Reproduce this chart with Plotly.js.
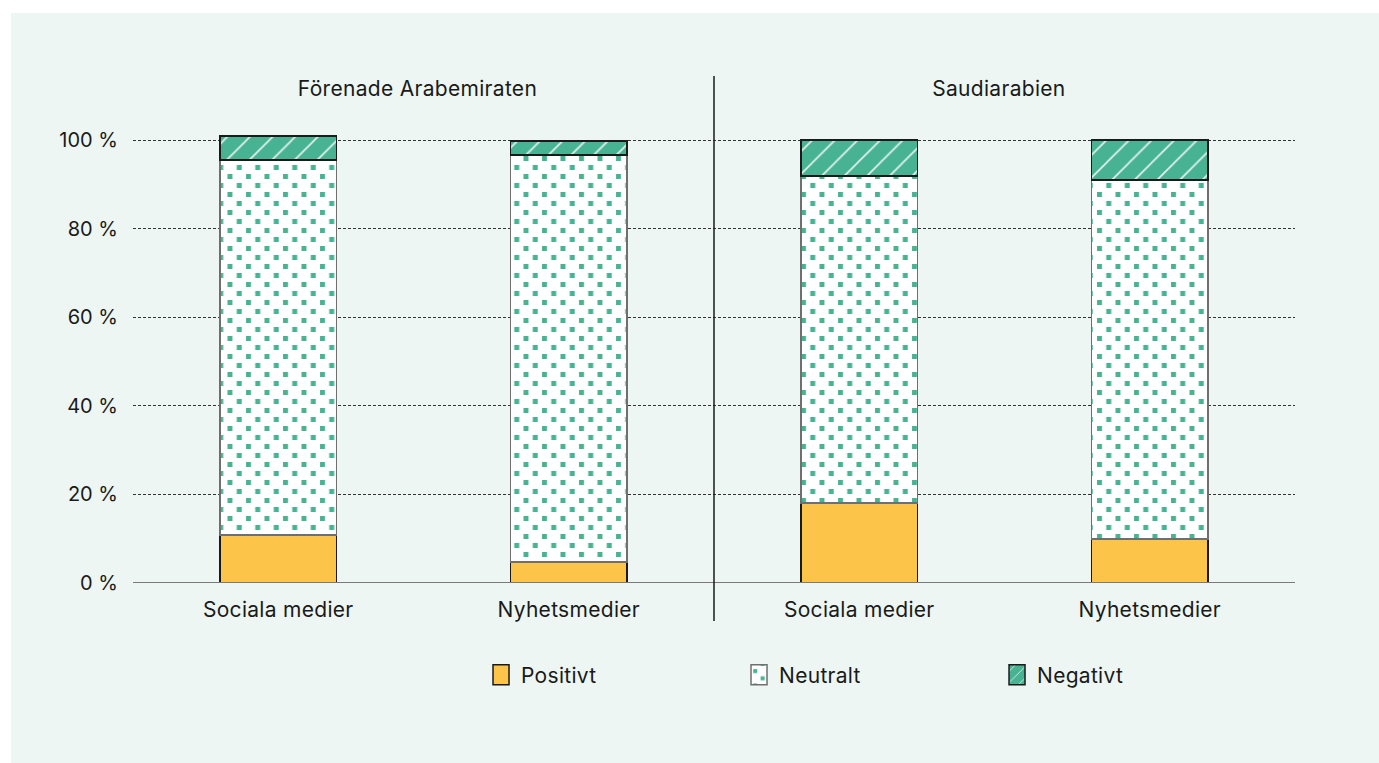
<!DOCTYPE html>
<html>
<head>
<meta charset="utf-8">
<script src="https://cdn.plot.ly/plotly-3.0.1.min.js"></script>
<style>
  html, body { margin: 0; padding: 0; background: #ffffff; }
  #chart { position: absolute; left: 11px; top: 13px; width: 1368px; height: 750px; }
  #chart .xtick text, #chart .annotation-text, #chart .legendtext { letter-spacing: 0.3px; }
</style>
</head>
<body>
<div id="chart"></div>
<script>
// Data
const groups = ["Förenade Arabemiraten", "Saudiarabien"];
const categories = ["Sociala medier", "Nyhetsmedier", "Sociala medier", "Nyhetsmedier"];
const positions = [0, 1, 2, 3];
const positivt = [10.8, 4.7, 18.1, 9.9];
const neutralt = [84.7, 91.9, 73.8, 81.1];
const negativt = [5.4, 3.2, 8.1, 9.0];
const seriesNames = ["Positivt", "Neutralt", "Negativt"];
const yTickVals = [0, 20, 40, 60, 80, 100];
const yTickText = ["0 %", "20 %", "40 %", "60 %", "80 %", "100 %"];

const green = "#48b393";
const yellow = "#fcc54a";
const ink = "#1a1a1a";
const font = "Inter, Roboto, sans-serif";
const fs = 21;

const traces = [
  {
    type: "bar", name: seriesNames[0], x: positions, y: positivt,
    marker: { color: yellow, line: { color: ink, width: 1.5 } },
    width: 0.4, hoverinfo: "y+name"
  },
  {
    type: "bar", name: seriesNames[1], x: positions, y: neutralt,
    marker: {
      color: "#ffffff", line: { color: "#6f6f6f", width: 1.5 },
      pattern: { shape: ".", fgcolor: green, bgcolor: "#ffffff", size: 13, solidity: 0.15, fillmode: "replace" }
    },
    width: 0.4, hoverinfo: "y+name"
  },
  {
    type: "bar", name: seriesNames[2], x: positions, y: negativt,
    marker: {
      color: green, line: { color: ink, width: 1.5 },
      pattern: { shape: "/", fgcolor: "#e6f4ee", bgcolor: green, size: 16, solidity: 0.1, fillmode: "replace" }
    },
    width: 0.4, hoverinfo: "y+name"
  }
];

const layout = {
  width: 1368, height: 750,
  paper_bgcolor: "#edf6f2", plot_bgcolor: "#edf6f2",
  margin: { l: 122, r: 84, t: 105, b: 180, autoexpand: false },
  barmode: "stack",
  font: { family: font, size: fs, color: ink },
  showlegend: true,
  legend: {
    orientation: "h", x: 0.2995, xanchor: "left", y: -0.198, yanchor: "middle",
    entrywidth: 213, entrywidthmode: "pixels", traceorder: "normal",
    font: { family: font, size: fs, color: ink }, itemwidth: 30,
    bgcolor: "rgba(0,0,0,0)"
  },
  xaxis: {
    range: [-0.5, 3.5], tickmode: "array", tickvals: positions, ticktext: categories,
    showgrid: false, zeroline: false, showline: false, ticks: "", fixedrange: true,
    ticklabelstandoff: 12,
    tickfont: { family: font, size: fs, color: ink }
  },
  yaxis: {
    range: [0, 105], tickmode: "array", tickvals: yTickVals, ticktext: yTickText,
    showgrid: true, gridcolor: "#333333", gridwidth: 1, griddash: "3px,2px",
    zeroline: false, showline: false, ticks: "", ticklabelstandoff: 14,
    tickfont: { family: font, size: 20, color: ink }, fixedrange: true
  },
  shapes: [
    { type: "line", xref: "paper", x0: 0, x1: 1, yref: "y", y0: 0, y1: 0, line: { color: "#7a7a7a", width: 2 }, layer: "above" },
    { type: "line", xref: "x", x0: 1.5, x1: 1.5, yref: "paper", y0: -0.0817, y1: 1.0903, line: { color: ink, width: 1.5 } }
  ],
  annotations: [
    { text: groups[0], xref: "x", x: 0.5, xshift: -6, yref: "paper", y: 1.0645, yanchor: "middle", showarrow: false, font: { family: font, size: fs, color: ink } },
    { text: groups[1], xref: "x", x: 2.5, xshift: -6, yref: "paper", y: 1.0645, yanchor: "middle", showarrow: false, font: { family: font, size: fs, color: ink } }
  ]
};

function restyle() {
  const NS = "http://www.w3.org/2000/svg";
  // staggered square dots for the neutral pattern
  document.querySelectorAll("#chart pattern").forEach(p => {
    if (!p.querySelector("circle")) return;
    const w = 18.5, h = 18, s = 5;
    p.setAttribute("width", w);
    p.setAttribute("height", h);
    while (p.firstChild) p.removeChild(p.firstChild);
    const bg = document.createElementNS(NS, "rect");
    bg.setAttribute("x", 0); bg.setAttribute("y", 0);
    bg.setAttribute("width", w); bg.setAttribute("height", h);
    bg.setAttribute("fill", "#ffffff");
    p.appendChild(bg);
    [[2, 2], [2 + w / 2, 2 + h / 2]].forEach(([x, y]) => {
      const r = document.createElementNS(NS, "rect");
      r.setAttribute("x", x); r.setAttribute("y", y);
      r.setAttribute("width", s); r.setAttribute("height", s);
      r.setAttribute("fill", green);
      p.appendChild(r);
    });
  });
  // taller legend boxes
  document.querySelectorAll("#chart .legendpoints path").forEach(path => {
    path.setAttribute("d", "M8,10H-8V-10H8Z");
  });
}

Plotly.newPlot("chart", traces, layout, { displayModeBar: false, staticPlot: true }).then(restyle);
</script>
</body>
</html>
